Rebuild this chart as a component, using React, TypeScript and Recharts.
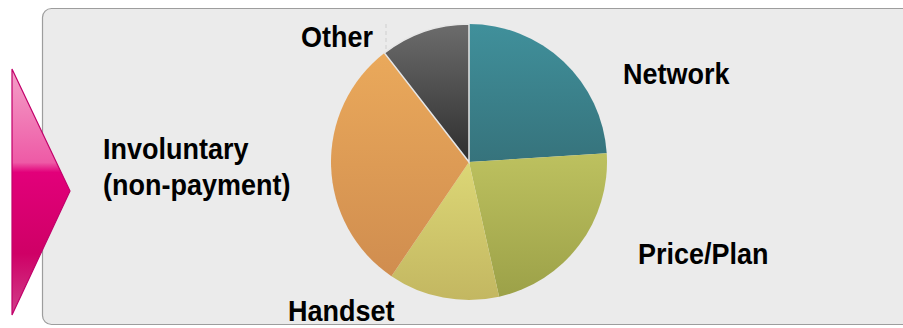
import React from 'react';
import { PieChart, Pie, Cell } from 'recharts';

// churn reasons, clockwise from 12 o'clock
const reasons = ['Network', 'Price/Plan', 'Handset', 'Involuntary', 'Other'];
const shares = [24, 22.5, 13, 30, 10.5];
const gradTop = ['#40909b', '#bdc15f', '#dcd776', '#eaa95b', '#6c6c6c'];
const gradBottom = ['#36737c', '#9ca148', '#c3b761', '#d08d4f', '#2e2e2e'];

// label text lines and their baseline offsets from the pie centre
const labelLines: Record<string, string[]> = {
  Network: ['Network'],
  'Price/Plan': ['Price/Plan'],
  Handset: ['Handset'],
  Involuntary: ['Involuntary', '(non-payment)'],
  Other: ['Other'],
};
const labelOffset: Record<string, [number, number]> = {
  Network: [154, -78],
  'Price/Plan': [169, 102],
  Handset: [-181, 159],
  Involuntary: [-366, -3],
  Other: [-168, -115],
};

const data = reasons.map((name, i) => ({ name, value: shares[i] }));

const W = 903;
const H = 328;
const FONT = '"Liberation Sans", Arial, sans-serif';

function renderLabel(props: any) {
  const { cx, cy, name } = props;
  const [dx, dy] = labelOffset[name];
  const lines = labelLines[name];
  return (
    <text
      transform={`translate(${cx + dx},${cy + dy}) scale(1,1.1)`}
      x={0}
      y={0}
      fill="#000"
      fontFamily={FONT}
      fontWeight={700}
      fontSize={27}
      textAnchor="start"
    >
      {lines.map((l, k) => (
        <tspan key={k} x={0} dy={k === 0 ? 0 : 33}>
          {l}
        </tspan>
      ))}
    </text>
  );
}

export default function App() {
  return (
    <div style={{ position: 'relative', width: W, height: H, overflow: 'hidden' }}>
      <style>{`body{margin:0}`}</style>
      <svg width={W} height={H} style={{ position: 'absolute', left: 0, top: 0 }}>
        <defs>
          <linearGradient id="arrowGrad" x1="0" y1="0" x2="0" y2="1">
            <stop offset="0%" stopColor="#f4a0c8" />
            <stop offset="38%" stopColor="#ee5aa6" />
            <stop offset="42%" stopColor="#e2007a" />
            <stop offset="75%" stopColor="#cf0066" />
            <stop offset="100%" stopColor="#d0408a" />
          </linearGradient>
        </defs>
        <rect x={42.5} y={8.5} width={900} height={316} rx={9} fill="#ebebeb" stroke="#9d9d9d" strokeWidth={1.2} />
        <line x1={386} y1={24} x2={386} y2={158} stroke="#cfcfcf" strokeDasharray="4 3" />
        <polygon points="12,69 70,191 12,315" fill="url(#arrowGrad)" stroke="#c2006a" strokeWidth={1.2} />
      </svg>
      <div style={{ position: 'absolute', left: 0, top: 0 }}>
        <PieChart width={W} height={H} margin={{ top: 0, right: 0, bottom: 0, left: 0 }}>
          <defs>
            {reasons.map((r, i) => (
              <linearGradient key={r} id={`slice-${i}`} x1="0" y1="0" x2="0" y2="1">
                <stop offset="0%" stopColor={gradTop[i]} />
                <stop offset="100%" stopColor={gradBottom[i]} />
              </linearGradient>
            ))}
          </defs>
          <Pie
            data={data}
            dataKey="value"
            nameKey="name"
            cx={469}
            cy={162}
            outerRadius={138}
            startAngle={90}
            endAngle={-270}
            label={renderLabel}
            labelLine={false}
            isAnimationActive={false}
          >
            {data.map((d, i) => (
              <Cell
                key={d.name}
                fill={`url(#slice-${i})`}
                stroke={d.name === 'Other' ? '#e6e6e6' : 'none'}
                strokeWidth={d.name === 'Other' ? 1.5 : 0}
              />
            ))}
          </Pie>
        </PieChart>
      </div>
    </div>
  );
}
